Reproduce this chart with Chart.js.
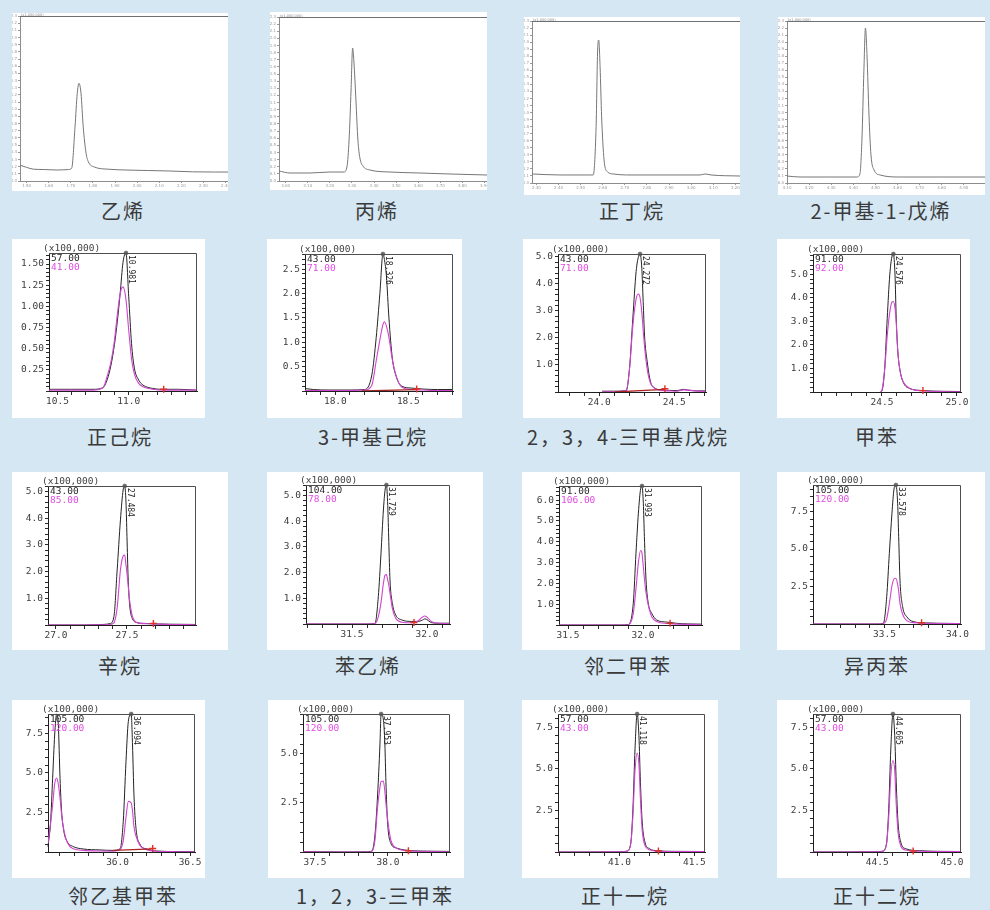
<!DOCTYPE html>
<html lang="zh-CN">
<head>
<meta charset="utf-8">
<title>色谱图</title>
<script src="https://cdn.jsdelivr.net/npm/chart.js@4.4.1/dist/chart.umd.min.js"></script>
<style>
  html, body { margin: 0; padding: 0; }
  body { width: 990px; height: 910px; background: #d4e7f3; position: relative; overflow: hidden; }
  .panel { position: absolute; background: #fff; }
  .panel canvas { display: block; }
  .cap { position: absolute; transform: translate(-50%, -50%); font-family: "Noto Sans CJK SC", sans-serif;
         font-size: 20px; letter-spacing: 2px; color: #3a3a3a; white-space: nowrap; line-height: 1; }
</style>
</head>
<body>
<script>
// ---------- compound names (captions) ----------
const compoundNames = [
  '乙烯', '丙烯', '正丁烷', '2-甲基-1-戊烯',
  '正己烷', '3-甲基己烷', '2，3，4-三甲基戊烷', '甲苯',
  '辛烷', '苯乙烯', '邻二甲苯', '异丙苯',
  '邻乙基甲苯', '1，2，3-三甲苯', '正十一烷', '正十二烷'
];

// ---------- top row: total ion chromatograms (time, min / intensity) ----------
const ethyleneTime   = [1.47, 1.50, 1.53, 1.58, 1.64, 1.69, 1.704, 1.719, 1.729, 1.737, 1.746, 1.756, 1.769, 1.779, 1.802, 1.877, 1.95, 2.05, 2.15, 2.25, 2.35, 2.411];
const ethyleneSignal = [0.22, 0.19, 0.165, 0.16, 0.153, 0.16, 0.181, 0.757, 1.222, 1.362, 1.222, 0.757, 0.386, 0.269, 0.20, 0.163, 0.153, 0.146, 0.139, 0.128, 0.125, 0.125];

const propyleneTime   = [2.97, 3.02, 3.11, 3.20, 3.264, 3.278, 3.287, 3.296, 3.303, 3.309, 3.318, 3.327, 3.336, 3.35, 3.382, 3.472, 3.608, 3.744, 3.911];
const propyleneSignal = [0.14, 0.112, 0.112, 0.126, 0.126, 0.21, 0.575, 1.276, 1.865, 1.669, 1.136, 0.575, 0.323, 0.21, 0.154, 0.126, 0.112, 0.098, 0.084];

const butaneTime   = [2.28, 2.407, 2.542, 2.557, 2.570, 2.577, 2.582, 2.588, 2.595, 2.606, 2.621, 2.648, 2.708, 2.859, 3.04, 3.063, 3.09, 3.221];
const butaneSignal = [0.128, 0.114, 0.114, 0.114, 0.80, 1.888, 2.03, 1.65, 0.941, 0.327, 0.16, 0.128, 0.114, 0.114, 0.114, 0.128, 0.114, 0.099];

const methylpenteneTime   = [4.10, 4.159, 4.295, 4.417, 4.43, 4.439, 4.448, 4.455, 4.462, 4.471, 4.48, 4.494, 4.521, 4.611, 4.792, 4.996];
const methylpenteneSignal = [0.099, 0.085, 0.085, 0.085, 0.128, 0.61, 1.60, 2.20, 1.82, 0.965, 0.398, 0.185, 0.114, 0.085, 0.085, 0.085];

// ---------- extracted ion chromatograms (x100,000) ----------
// n-hexane, m/z 57 and 41
const hexaneTime  = [10.44, 10.60, 10.75, 10.82, 10.85, 10.875, 10.90, 10.92, 10.94, 10.96, 10.981, 11.00, 11.02, 11.04, 11.07, 11.10, 11.17, 11.25, 11.35, 11.48];
const hexaneIon57 = [0.02, 0.02, 0.02, 0.04, 0.14, 0.30, 0.55, 0.82, 1.15, 1.52, 1.63, 1.12, 0.56, 0.27, 0.13, 0.07, 0.03, 0.02, 0.02, 0.01];
const hexaneIon41 = [0.01, 0.01, 0.01, 0.04, 0.18, 0.34, 0.60, 0.90, 1.15, 1.23, 1.08, 0.72, 0.38, 0.20, 0.09, 0.05, 0.02, 0.01, 0.01, 0.01];
const hexaneEnd   = [11.246, 0.02];

// 3-methylhexane, m/z 43 and 71
const methylhexaneTime  = [17.792, 17.85, 17.95, 18.10, 18.20, 18.25, 18.28, 18.305, 18.326, 18.336, 18.35, 18.367, 18.39, 18.42, 18.455, 18.52, 18.60, 18.70, 18.806];
const methylhexaneIon43 = [0.05, 0.03, 0.02, 0.02, 0.03, 0.33, 1.10, 2.00, 2.81, 2.70, 2.35, 1.50, 0.68, 0.27, 0.10, 0.06, 0.04, 0.03, 0.03];
const methylhexaneIon71 = [0.01, 0.01, 0.01, 0.01, 0.02, 0.12, 0.62, 1.05, 1.36, 1.42, 1.33, 1.10, 0.65, 0.28, 0.08, 0.03, 0.02, 0.01, 0.01];
const methylhexaneEnd   = [18.557, 0.04];
const methylhexaneBaseT = [18.18, 18.557];
const methylhexaneBaseY = [0.0, 0.03];

// 2,3,4-trimethylpentane, m/z 43 and 71
const trimethylpentaneTime  = [24.02, 24.10, 24.18, 24.202, 24.224, 24.246, 24.262, 24.272, 24.284, 24.293, 24.302, 24.32, 24.342, 24.369, 24.41, 24.47, 24.52, 24.56, 24.60, 24.66, 24.712];
const trimethylpentaneIon43 = [0.03, 0.03, 0.05, 0.88, 2.73, 4.46, 5.02, 5.11, 4.58, 3.35, 2.11, 1.12, 0.38, 0.15, 0.08, 0.06, 0.05, 0.10, 0.06, 0.04, 0.04];
const trimethylpentaneIon71 = [0.01, 0.01, 0.06, 0.85, 2.45, 3.45, 3.63, 3.50, 2.95, 2.30, 1.70, 0.85, 0.32, 0.14, 0.06, 0.04, 0.03, 0.08, 0.07, 0.03, 0.02];
const trimethylpentaneEnd   = [24.438, 0.12];
const trimethylpentaneBaseT = [24.105, 24.438];
const trimethylpentaneBaseY = [0.0, 0.1];

// toluene, m/z 91 and 92
const tolueneTime  = [24.49, 24.50, 24.518, 24.535, 24.552, 24.566, 24.576, 24.587, 24.595, 24.606, 24.622, 24.645, 24.685, 24.775, 24.90, 25.02];
const tolueneIon91 = [0.0, 0.05, 1.00, 3.14, 4.98, 5.75, 5.87, 4.98, 3.14, 1.71, 0.86, 0.37, 0.15, 0.06, 0.03, 0.02];
const tolueneIon92 = [0.0, 0.08, 0.95, 2.40, 3.40, 3.82, 3.85, 3.55, 2.95, 1.65, 0.84, 0.40, 0.15, 0.05, 0.02, 0.01];
const tolueneEnd   = [24.773, 0.06];

// octane, m/z 43 and 85
const octaneTime  = [26.944, 27.20, 27.33, 27.38, 27.408, 27.431, 27.454, 27.473, 27.484, 27.493, 27.500, 27.508, 27.518, 27.537, 27.572, 27.62, 27.69, 27.80, 27.986];
const octaneIon43 = [0.0, 0.0, 0.02, 0.05, 0.31, 2.06, 3.93, 5.05, 5.20, 4.60, 3.30, 1.80, 0.81, 0.25, 0.09, 0.06, 0.04, 0.03, 0.02];
const octaneIon85 = [0.0, 0.0, 0.01, 0.02, 0.08, 0.65, 2.06, 2.58, 2.62, 2.25, 1.95, 1.50, 0.95, 0.35, 0.08, 0.05, 0.04, 0.02, 0.01];
const octaneEnd   = [27.686, 0.06];

// styrene, m/z 104 and 78
const styreneTime   = [31.193, 31.40, 31.60, 31.653, 31.675, 31.693, 31.709, 31.72, 31.729, 31.738, 31.745, 31.753, 31.769, 31.791, 31.831, 31.898, 31.94, 31.965, 31.986, 32.031, 32.08, 32.153];
const styreneIon104 = [0.0, 0.0, 0.0, 0.02, 1.06, 2.75, 4.43, 5.20, 5.40, 4.60, 3.20, 1.71, 0.80, 0.35, 0.16, 0.10, 0.10, 0.14, 0.20, 0.05, 0.03, 0.03];
const styreneIon78  = [0.0, 0.0, 0.0, 0.02, 0.28, 0.83, 1.58, 1.90, 1.92, 1.70, 1.52, 1.20, 0.60, 0.22, 0.07, 0.05, 0.12, 0.25, 0.31, 0.09, 0.03, 0.02];
const styreneEnd    = [31.913, 0.06];

// o-xylene, m/z 91 and 106
const oXyleneTime   = [31.44, 31.60, 31.85, 31.90, 31.935, 31.953, 31.969, 31.984, 31.993, 32.002, 32.009, 32.02, 32.035, 32.058, 32.091, 32.158, 32.225, 32.30, 32.393];
const oXyleneIon91  = [0.0, 0.0, 0.0, 0.02, 1.04, 3.45, 5.37, 6.55, 6.68, 5.85, 4.25, 2.16, 1.04, 0.56, 0.24, 0.14, 0.08, 0.05, 0.04];
const oXyleneIon106 = [0.0, 0.0, 0.0, 0.01, 0.55, 1.75, 3.00, 3.58, 3.45, 2.80, 2.25, 1.55, 0.95, 0.40, 0.17, 0.07, 0.04, 0.03, 0.02];
const oXyleneEnd    = [32.18, 0.08];

// cumene, m/z 105 and 120
const cumeneTime   = [33.01, 33.30, 33.45, 33.492, 33.515, 33.533, 33.551, 33.565, 33.578, 33.59, 33.597, 33.606, 33.624, 33.652, 33.697, 33.788, 33.948, 34.024];
const cumeneIon105 = [0.0, 0.0, 0.0, 0.04, 1.82, 4.71, 7.38, 9.00, 9.27, 8.04, 5.82, 2.93, 1.16, 0.49, 0.16, 0.07, 0.04, 0.03];
const cumeneIon120 = [0.0, 0.0, 0.0, 0.02, 0.35, 1.35, 2.55, 3.00, 3.05, 2.65, 2.20, 1.38, 0.65, 0.22, 0.09, 0.05, 0.03, 0.02];
const cumeneEnd    = [33.754, 0.08];

// o-ethyltoluene, m/z 105 and 120
const ethyltolueneTime   = [35.52, 35.538, 35.552, 35.566, 35.58, 35.591, 35.603, 35.614, 35.63, 35.653, 35.695, 35.763, 35.879, 35.97, 36.017, 36.039, 36.058, 36.074, 36.094, 36.103, 36.113, 36.127, 36.154, 36.20, 36.27, 36.41, 36.534];
const ethyltolueneIon105 = [0.34, 1.92, 4.66, 7.40, 8.73, 8.10, 4.66, 2.55, 1.28, 0.65, 0.34, 0.19, 0.13, 0.10, 0.20, 1.92, 5.72, 8.25, 8.73, 6.77, 3.60, 1.50, 0.50, 0.19, 0.06, 0.03, 0.02];
const ethyltolueneIon120 = [0.55, 1.80, 2.97, 4.30, 4.68, 4.30, 3.40, 2.34, 1.35, 0.60, 0.20, 0.10, 0.06, 0.05, 0.15, 0.70, 2.20, 3.20, 3.10, 2.60, 1.60, 1.00, 0.42, 0.15, 0.05, 0.02, 0.01];
const ethyltolueneEnd    = [36.242, 0.22];
const ethyltolueneBaseT  = [35.97, 36.242];
const ethyltolueneBaseY  = [0.10, 0.20];

// 1,2,3-trimethylbenzene, m/z 105 and 120
const trimethylbenzeneTime   = [37.418, 37.55, 37.70, 37.85, 37.889, 37.911, 37.929, 37.945, 37.953, 37.968, 37.979, 37.986, 37.997, 38.02, 38.059, 38.116, 38.207, 38.30, 38.425];
const trimethylbenzeneIon105 = [0.02, 0.01, 0.0, 0.01, 0.05, 0.87, 2.91, 5.46, 7.04, 6.80, 5.46, 3.59, 1.55, 0.44, 0.20, 0.10, 0.05, 0.04, 0.03];
const trimethylbenzeneIon120 = [0.01, 0.0, 0.0, 0.0, 0.03, 0.60, 2.30, 3.30, 3.60, 3.62, 3.08, 2.50, 1.70, 0.60, 0.20, 0.08, 0.04, 0.02, 0.01];
const trimethylbenzeneEnd    = [38.14, 0.06];

// n-undecane, m/z 57 and 43
const undecaneTime  = [40.59, 40.80, 41.00, 41.05, 41.075, 41.09, 41.104, 41.118, 41.13, 41.14, 41.152, 41.17, 41.20, 41.25, 41.35, 41.571];
const undecaneIon57 = [0.0, 0.0, 0.01, 0.05, 0.50, 2.60, 6.20, 8.30, 7.00, 4.20, 1.80, 0.60, 0.20, 0.08, 0.04, 0.03];
const undecaneIon43 = [0.0, 0.0, 0.01, 0.05, 0.45, 2.20, 4.90, 5.95, 5.30, 3.20, 1.30, 0.40, 0.13, 0.05, 0.02, 0.02];
const undecaneEnd   = [41.26, 0.06];

// n-dodecane, m/z 57 and 43
const dodecaneTime  = [44.072, 44.30, 44.50, 44.537, 44.562, 44.577, 44.591, 44.605, 44.617, 44.627, 44.639, 44.657, 44.69, 44.78, 44.90, 45.059];
const dodecaneIon57 = [0.0, 0.0, 0.01, 0.05, 0.50, 2.60, 6.20, 8.30, 7.00, 4.20, 1.80, 0.60, 0.20, 0.08, 0.04, 0.03];
const dodecaneIon43 = [0.0, 0.0, 0.01, 0.05, 0.45, 2.10, 4.60, 5.50, 4.90, 2.90, 1.20, 0.38, 0.12, 0.05, 0.02, 0.02];
const dodecaneEnd   = [44.74, 0.06];

// ---------- drawing ----------
Chart.defaults.font.family = '"DejaVu Sans Mono", monospace';
Chart.defaults.animation = false;

const INK = '#232323';
const MAG = '#d044d0';
const MAG_TEXT = '#e24ce2';
const RED = '#e0302a';

function makePanel(box) {
  const div = document.createElement('div');
  div.className = 'panel';
  div.style.left = box[0] + 'px';
  div.style.top = box[1] + 'px';
  div.style.width = (box[2] - box[0]) + 'px';
  div.style.height = (box[3] - box[1]) + 'px';
  const c = document.createElement('canvas');
  c.width = box[2] - box[0];
  c.height = box[3] - box[1];
  div.appendChild(c);
  document.body.appendChild(div);
  return c;
}

function caption(text, cx, cy) {
  const d = document.createElement('div');
  d.className = 'cap';
  d.textContent = text;
  d.style.left = cx + 'px';
  d.style.top = cy + 'px';
  document.body.appendChild(d);
}

function isMult(v, step) {
  const r = v / step;
  return Math.abs(r - Math.round(r)) < 1e-6;
}

const pairs = (xs, ys) => xs.map((x, i) => ({ x, y: ys[i] }));

// top-row chromatogram with tiny instrument tick labels
function ticPanel(p) {
  const [bl, bt, br, bb] = p.box, [pl, pt, pr, pb] = p.plot;
  const canvas = makePanel(p.box);
  const decor = {
    id: 'ticDecor',
    afterDatasetsDraw(chart) {
      const { ctx, chartArea: a } = chart;
      ctx.save();
      ctx.strokeStyle = '#707070';
      ctx.lineWidth = 1;
      ctx.beginPath();
      ctx.moveTo(a.left, a.top + 0.5);
      ctx.lineTo(a.right, a.top + 0.5);
      ctx.stroke();
      ctx.fillStyle = '#8a8a8a';
      ctx.font = '3.5px "DejaVu Sans"';
      ctx.textBaseline = 'middle';
      ctx.fillText('(x1,000,000)', a.left + 1, a.top - 1);
      ctx.restore();
    }
  };
  new Chart(canvas, {
    type: 'line',
    data: { datasets: [{ data: pairs(p.t, p.s), borderColor: '#767676', borderWidth: 1, pointRadius: 0,
                         cubicInterpolationMode: 'monotone' }] },
    options: {
      responsive: false,
      layout: { autoPadding: false, padding: { left: 0, top: pt - bt, right: br - pr, bottom: 0 } },
      plugins: { legend: { display: false }, tooltip: { enabled: false } },
      scales: {
        x: {
          type: 'linear', min: p.x[0], max: p.x[1],
          afterFit: s => { s.height = bb - pb; s.paddingLeft = 0; s.paddingRight = 0; },
          border: { color: '#8c8c8c', width: 1 },
          grid: { drawOnChartArea: false, tickLength: 2, color: '#9a9a9a' },
          ticks: { stepSize: 0.1, autoSkip: false, includeBounds: false, maxRotation: 0, minRotation: 0, padding: 1,
                   color: '#9a9a9a', font: { size: 4, family: '"DejaVu Sans"' }, callback: v => v.toFixed(2) }
        },
        y: {
          min: 0, max: 2.3,
          afterFit: s => { s.width = pl - bl; s.paddingTop = 0; s.paddingBottom = 0; },
          border: { color: '#8c8c8c', width: 1 },
          grid: { drawOnChartArea: false, tickLength: 2, color: '#9a9a9a' },
          ticks: { stepSize: 0.1, autoSkip: false, includeBounds: false, padding: 1,
                   color: '#9a9a9a', font: { size: 4, family: '"DejaVu Sans"' }, callback: v => v.toFixed(1) }
        }
      }
    },
    plugins: [decor]
  });
}

// extracted ion chromatogram: quantifier (black) and qualifier (magenta)
function msPanel(p) {
  const [bl, bt, br, bb] = p.box, [pl, pt, pr, pb] = p.plot;
  const canvas = makePanel(p.box);
  const apexIdx = p.t.indexOf(p.apex);
  const ds = [];
  ds.push({ data: [{ x: p.end[0], y: p.end[1] }], showLine: false, pointStyle: 'cross', pointRadius: 3.5,
            borderColor: RED, pointBorderColor: RED, borderWidth: 1.4, clip: false });
  if (p.baseT) {
    ds.push({ data: pairs(p.baseT, p.baseY), borderColor: '#a82424', borderWidth: 1.3, pointRadius: 0 });
  }
  ds.push({ data: pairs(p.t, p.b), borderColor: MAG, borderWidth: 1.1, pointRadius: 0,
            cubicInterpolationMode: 'monotone' });
  ds.push({ data: pairs(p.t, p.a), borderColor: INK, borderWidth: 1, cubicInterpolationMode: 'monotone',
            pointRadius: c => (c.dataIndex === apexIdx ? 2 : 0), pointBackgroundColor: '#6a6a6a',
            pointBorderColor: '#5a5a5a', pointBorderWidth: 0.5, clip: 3 });

  const decor = {
    id: 'msDecor',
    afterDatasetsDraw(chart) {
      const { ctx, chartArea: a, scales: { x } } = chart;
      ctx.save();
      ctx.strokeStyle = '#4e4e4e';
      ctx.lineWidth = 1;
      ctx.beginPath();
      ctx.moveTo(a.left, a.top + 0.5);
      ctx.lineTo(a.right - 0.5, a.top + 0.5);
      ctx.lineTo(a.right - 0.5, a.bottom);
      ctx.stroke();

      ctx.font = '9.5px "DejaVu Sans Mono"';
      ctx.textBaseline = 'middle';
      ctx.textAlign = 'left';
      ctx.fillStyle = '#444';
      ctx.fillText('(x100,000)', a.left - 6, a.top - 4);
      ctx.fillStyle = '#2a2a2a';
      ctx.fillText(p.ions[0], a.left + 2, a.top + 6);
      ctx.fillStyle = MAG_TEXT;
      ctx.fillText(p.ions[1], a.left + 2, a.top + 15);

      const ax = x.getPixelForValue(p.apex);
      ctx.translate(ax + 1, a.top + 2);
      ctx.rotate(Math.PI / 2);
      ctx.font = '8px "DejaVu Sans Mono"';
      ctx.textBaseline = 'bottom';
      ctx.fillStyle = '#222';
      ctx.fillText(p.apex.toFixed(3), 0, 0);
      ctx.restore();
    }
  };

  new Chart(canvas, {
    type: 'line',
    data: { datasets: ds },
    options: {
      responsive: false,
      layout: { autoPadding: false, padding: { left: 0, top: pt - bt, right: br - pr, bottom: 0 } },
      plugins: { legend: { display: false }, tooltip: { enabled: false } },
      scales: {
        x: {
          type: 'linear', min: p.x[0], max: p.x[1],
          afterFit: s => { s.height = bb - pb; s.paddingLeft = 0; s.paddingRight = 0; },
          border: { color: '#1e1e1e', width: 1 },
          grid: { drawOnChartArea: false, tickLength: 4, color: '#2a2a2a' },
          ticks: { stepSize: 0.1, autoSkip: false, includeBounds: false, maxRotation: 0, minRotation: 0, padding: 1,
                   color: '#3c3c3c', font: { size: 9.5 },
                   callback: v => (isMult(v, 0.5) ? v.toFixed(1) : '') }
        },
        y: {
          min: 0, max: p.yMax,
          afterFit: s => { s.width = pl - bl; s.paddingTop = 0; s.paddingBottom = 0; },
          border: { color: '#1e1e1e', width: 1 },
          grid: { drawOnChartArea: false, tickLength: 3, color: '#2a2a2a' },
          ticks: { stepSize: p.yMinor, autoSkip: false, includeBounds: false, padding: 2,
                   color: '#3c3c3c', font: { size: 9.5 },
                   callback: v => (v > 0 && isMult(v, p.yMajor) ? v.toFixed(p.yDec) : '') }
        }
      }
    },
    plugins: [decor]
  });
}

// ---------- layout ----------
const ticLayout = [
  { box: [12, 13, 228, 191],  plot: [20, 16, 228, 181],  x: [1.47, 2.411], t: ethyleneTime,      s: ethyleneSignal,      cap: [123, 211] },
  { box: [270, 12, 487, 190], plot: [279, 17, 487, 181], x: [2.97, 3.911], t: propyleneTime,     s: propyleneSignal,     cap: [377, 211] },
  { box: [524, 17, 740, 195], plot: [532, 21, 740, 183], x: [2.28, 3.221], t: butaneTime,        s: butaneSignal,        cap: [632, 211] },
  { box: [778, 17, 985, 195], plot: [787, 21, 985, 183], x: [4.10, 4.996], t: methylpenteneTime, s: methylpenteneSignal, cap: [881, 211] }
];

const msLayout = [
  { box: [12, 239, 205, 418],  plot: [49, 253, 197, 391],  x: [10.44, 11.48],   yMax: 1.63, yMajor: 0.25, yMinor: 0.05, yDec: 2,
    t: hexaneTime, a: hexaneIon57, b: hexaneIon41, ions: ['57.00', '41.00'], apex: 10.981, end: hexaneEnd, cap: [120, 437] },
  { box: [267, 239, 462, 418], plot: [305, 254, 453, 391], x: [17.792, 18.806], yMax: 2.81, yMajor: 0.5, yMinor: 0.1, yDec: 1,
    t: methylhexaneTime, a: methylhexaneIon43, b: methylhexaneIon71, ions: ['43.00', '71.00'], apex: 18.326, end: methylhexaneEnd,
    baseT: methylhexaneBaseT, baseY: methylhexaneBaseY, cap: [373, 437] },
  { box: [523, 239, 720, 418], plot: [558, 254, 706, 392], x: [23.725, 24.712], yMax: 5.11, yMajor: 1, yMinor: 0.2, yDec: 1,
    t: trimethylpentaneTime, a: trimethylpentaneIon43, b: trimethylpentaneIon71, ions: ['43.00', '71.00'], apex: 24.272, end: trimethylpentaneEnd,
    baseT: trimethylpentaneBaseT, baseY: trimethylpentaneBaseY, cap: [628, 437] },
  { box: [777, 239, 970, 418], plot: [813, 254, 961, 392], x: [24.04, 25.027],  yMax: 5.87, yMajor: 1, yMinor: 0.2, yDec: 1,
    t: tolueneTime, a: tolueneIon91, b: tolueneIon92, ions: ['91.00', '92.00'], apex: 24.576, end: tolueneEnd, cap: [877, 437] },

  { box: [12, 472, 228, 650],  plot: [48, 486, 196, 625],  x: [26.944, 27.986], yMax: 5.2, yMajor: 1, yMinor: 0.2, yDec: 1,
    t: octaneTime, a: octaneIon43, b: octaneIon85, ions: ['43.00', '85.00'], apex: 27.484, end: octaneEnd, cap: [120, 666] },
  { box: [267, 472, 483, 650], plot: [306, 485, 450, 624], x: [31.193, 32.153], yMax: 5.4, yMajor: 1, yMinor: 0.2, yDec: 1,
    t: styreneTime, a: styreneIon104, b: styreneIon78, ions: ['104.00', '78.00'], apex: 31.729, end: styreneEnd, cap: [368, 666] },
  { box: [522, 472, 740, 650], plot: [559, 486, 702, 625], x: [31.44, 32.393],  yMax: 6.68, yMajor: 1, yMinor: 0.2, yDec: 1,
    t: oXyleneTime, a: oXyleneIon91, b: oXyleneIon106, ions: ['91.00', '106.00'], apex: 31.993, end: oXyleneEnd, cap: [628, 666] },
  { box: [777, 472, 985, 650], plot: [813, 485, 961, 624], x: [33.01, 34.024],  yMax: 9.27, yMajor: 2.5, yMinor: 0.5, yDec: 1,
    t: cumeneTime, a: cumeneIon105, b: cumeneIon120, ions: ['105.00', '120.00'], apex: 33.578, end: cumeneEnd, cap: [877, 666] },

  { box: [12, 700, 205, 878],  plot: [48, 714, 195, 852],  x: [35.52, 36.534],  yMax: 8.73, yMajor: 2.5, yMinor: 0.5, yDec: 1,
    t: ethyltolueneTime, a: ethyltolueneIon105, b: ethyltolueneIon120, ions: ['105.00', '120.00'], apex: 36.094, end: ethyltolueneEnd,
    baseT: ethyltolueneBaseT, baseY: ethyltolueneBaseY, cap: [123, 896] },
  { box: [268, 700, 464, 878], plot: [303, 714, 450, 852], x: [37.418, 38.425], yMax: 7.04, yMajor: 2.5, yMinor: 0.5, yDec: 1,
    t: trimethylbenzeneTime, a: trimethylbenzeneIon105, b: trimethylbenzeneIon120, ions: ['105.00', '120.00'], apex: 37.953, end: trimethylbenzeneEnd, cap: [375, 896] },
  { box: [522, 700, 718, 878], plot: [558, 714, 705, 852], x: [40.59, 41.571],  yMax: 8.3, yMajor: 2.5, yMinor: 0.5, yDec: 1,
    t: undecaneTime, a: undecaneIon57, b: undecaneIon43, ions: ['57.00', '43.00'], apex: 41.118, end: undecaneEnd, cap: [625, 896] },
  { box: [777, 700, 970, 878], plot: [813, 714, 961, 852], x: [44.072, 45.059], yMax: 8.3, yMajor: 2.5, yMinor: 0.5, yDec: 1,
    t: dodecaneTime, a: dodecaneIon57, b: dodecaneIon43, ions: ['57.00', '43.00'], apex: 44.605, end: dodecaneEnd, cap: [877, 896] }
];

ticLayout.forEach((p, i) => { ticPanel(p); caption(compoundNames[i], p.cap[0], p.cap[1]); });
msLayout.forEach((p, i) => { msPanel(p); caption(compoundNames[i + 4], p.cap[0], p.cap[1]); });
</script>
</body>
</html>
